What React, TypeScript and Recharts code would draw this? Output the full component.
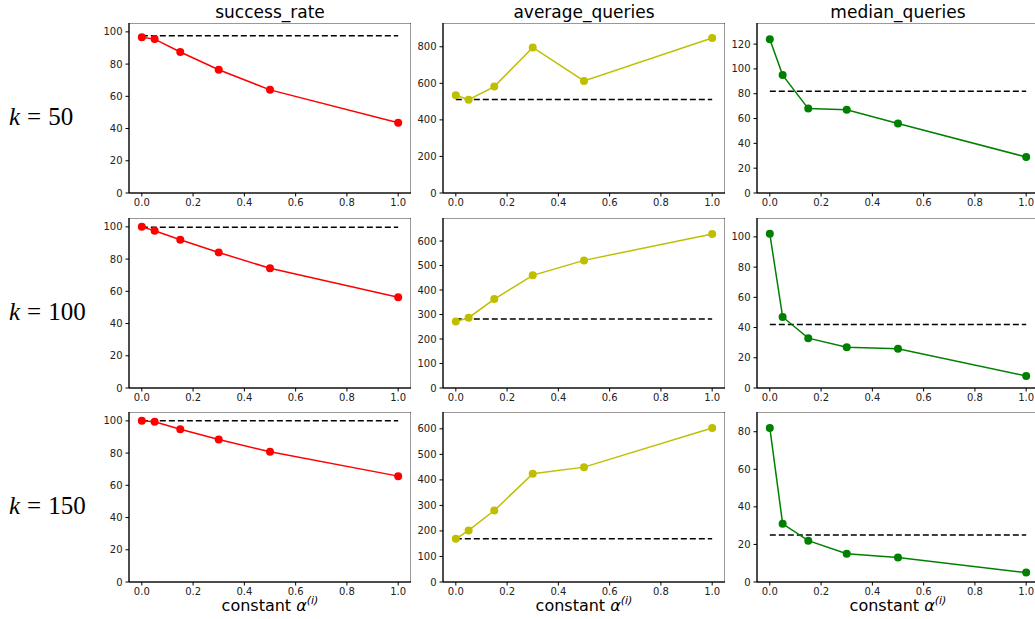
import React from "react";
import {
  LineChart,
  Line,
  XAxis,
  YAxis,
  ReferenceLine,
  ReferenceArea,
} from "recharts";

// alpha values along the x axis
const ALPHAS = [0, 0.05, 0.15, 0.3, 0.5, 1.0];
const X_TICKS = [0, 0.2, 0.4, 0.6, 0.8, 1.0];
const K_VALUES = [50, 100, 150];
const METRICS = ["success_rate", "average_queries", "median_queries"];
const COLORS = ["#ff0000", "#bfbf00", "#008000"];

const SUCCESS_K50 = [96.6, 95.5, 87.5, 76.5, 64.0, 43.6];
const SUCCESS_K100 = [100, 97.6, 92.0, 84.1, 74.3, 56.3];
const SUCCESS_K150 = [100, 99.4, 94.8, 88.4, 80.8, 65.7];
const AVG_K50 = [535, 510, 582, 796, 613, 848];
const AVG_K100 = [271, 287, 363, 460, 521, 629];
const AVG_K150 = [169, 202, 280, 424, 450, 603];
const MEDIAN_K50 = [124, 95, 68, 67, 56, 29];
const MEDIAN_K100 = [102, 47, 33, 27, 26, 8];
const MEDIAN_K150 = [82, 31, 22, 15, 13, 5];

// dashed reference (baseline) per row
const BASE_SUCCESS = [97.6, 99.8, 100];
const BASE_AVG = [512, 282, 169];
const BASE_MEDIAN = [82, 42, 25];

// axis tops and ticks
const YMAX_SUCCESS = [105.5, 105.5, 105.5];
const YMAX_AVG = [930, 694, 666];
const YMAX_MEDIAN = [137, 112.5, 90.5];
const TICKS_SUCCESS = [0, 20, 40, 60, 80, 100];
const TICKS_AVG_K50 = [0, 200, 400, 600, 800];
const TICKS_AVG = [0, 100, 200, 300, 400, 500, 600];
const TICKS_MEDIAN_K50 = [0, 20, 40, 60, 80, 100, 120];
const TICKS_MEDIAN_K100 = [0, 20, 40, 60, 80, 100];
const TICKS_MEDIAN_K150 = [0, 20, 40, 60, 80];

const SERIES = [
  [SUCCESS_K50, AVG_K50, MEDIAN_K50],
  [SUCCESS_K100, AVG_K100, MEDIAN_K100],
  [SUCCESS_K150, AVG_K150, MEDIAN_K150],
];
const BASES = [BASE_SUCCESS, BASE_AVG, BASE_MEDIAN];
const YMAXES = [YMAX_SUCCESS, YMAX_AVG, YMAX_MEDIAN];
const TICKS = [
  [TICKS_SUCCESS, TICKS_AVG_K50, TICKS_MEDIAN_K50],
  [TICKS_SUCCESS, TICKS_AVG, TICKS_MEDIAN_K100],
  [TICKS_SUCCESS, TICKS_AVG, TICKS_MEDIAN_K150],
];

const COL_LEFT = [129, 443, 757];
const ROW_TOP = [23, 217.5, 411.5];
const AW = 282;
const AH = 170;
const YW = 40;
const XH = 25;
const TICK_STYLE = { fontSize: 10, fill: "#222", fontFamily: "DejaVu Sans" };

function Panel({ row, col }: { row: number; col: number }) {
  const values = SERIES[row][col];
  const data = ALPHAS.map((a, i) => ({ alpha: a, v: values[i] }));
  const yMax = YMAXES[col][row];
  const base = BASES[col][row];
  const color = COLORS[col];
  return (
    <div style={{ position: "absolute", left: COL_LEFT[col] - YW, top: ROW_TOP[row] }}>
      <LineChart
        width={YW + AW}
        height={AH + XH}
        data={data}
        margin={{ top: 0, right: 0, bottom: 0, left: 0 }}
      >
        <XAxis
          type="number"
          dataKey="alpha"
          domain={[-0.05, 1.05]}
          ticks={X_TICKS}
          tickFormatter={(v: number) => v.toFixed(1)}
          height={XH}
          tickSize={3.5}
          tickMargin={2}
          stroke="#000"
          tick={TICK_STYLE}
          interval={0}
        />
        <YAxis
          type="number"
          domain={[0, yMax]}
          ticks={TICKS[row][col]}
          width={YW}
          tickSize={3.5}
          tickMargin={3}
          stroke="#000"
          tick={TICK_STYLE}
          interval={0}
        />
        <ReferenceArea
          x1={-0.05}
          x2={1.05}
          y1={0}
          y2={yMax}
          fill="none"
          stroke="#000"
          strokeWidth={0.8}
          fillOpacity={0}
        />
        <ReferenceLine
          segment={[
            { x: 0, y: base },
            { x: 1, y: base },
          ]}
          stroke="#000"
          strokeWidth={1.5}
          strokeDasharray="6 3"
        />
        <Line
          type="linear"
          dataKey="v"
          stroke={color}
          strokeWidth={1.5}
          dot={{ r: 4, fill: color, stroke: color, strokeWidth: 0 }}
          isAnimationActive={false}
        />
      </LineChart>
    </div>
  );
}

export default function App() {
  return (
    <div
      style={{
        position: "absolute",
        left: 0,
        top: 0,
        width: 1035,
        height: 619,
        overflow: "hidden",
        background: "#fff",
      }}
    >
      {K_VALUES.map((_, r) =>
        METRICS.map((_, c) => <Panel key={`${r}-${c}`} row={r} col={c} />)
      )}
      <svg
        width={1035}
        height={619}
        style={{ position: "absolute", left: 0, top: 0, pointerEvents: "none" }}
      >
        {METRICS.map((m, c) => (
          <text
            key={m}
            x={COL_LEFT[c] + AW / 2}
            y={18}
            textAnchor="middle"
            fontFamily="DejaVu Sans"
            fontSize={17}
            fill="#000"
          >
            {m}
          </text>
        ))}
        {METRICS.map((m, c) => (
          <text
            key={`xl-${m}`}
            x={COL_LEFT[c] + AW / 2}
            y={611}
            textAnchor="middle"
            fontFamily="DejaVu Sans"
            fontSize={16}
            fill="#000"
          >
            constant <tspan fontStyle="italic">α</tspan>
            <tspan fontSize={11} dy={-7} fontStyle="italic">
              (i)
            </tspan>
          </text>
        ))}
        {K_VALUES.map((k, r) => (
          <text
            key={`k-${k}`}
            x={9}
            y={ROW_TOP[r] + 102}
            fontFamily="Liberation Serif"
            fontSize={25}
            fill="#000"
          >
            <tspan fontStyle="italic">k</tspan>
            <tspan dx={7}>=</tspan>
            <tspan dx={7}>{k}</tspan>
          </text>
        ))}
      </svg>
    </div>
  );
}
